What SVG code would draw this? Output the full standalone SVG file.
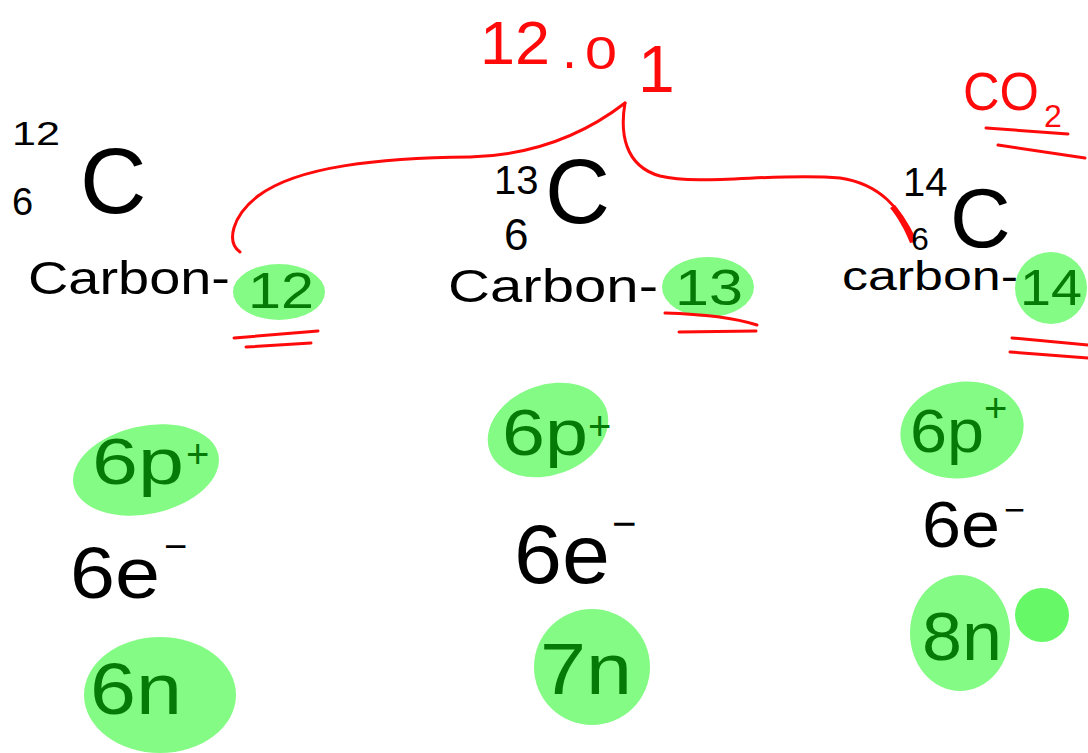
<svg xmlns="http://www.w3.org/2000/svg" width="1088" height="753" viewBox="0 0 1088 753">
<style>
.k{font-family:"Liberation Sans","DejaVu Sans",sans-serif;fill:#000}
.g{font-family:"Liberation Sans","DejaVu Sans",sans-serif;fill:#067a06}
.r{font-family:"Liberation Sans","DejaVu Sans",sans-serif;fill:#ff0a0a}
.blob{fill:#84fb84}
.red{fill:none;stroke:#ff0a0a;stroke-width:3;stroke-linecap:round}
</style>
<rect width="1088" height="753" fill="#fff"/>

<g id="atomic-mass">
<text class="r" x="480" y="64" font-size="62" textLength="70" lengthAdjust="spacingAndGlyphs">12</text>
<text class="r" x="562" y="68" font-size="54">.</text>
<text class="r" x="585" y="69" font-size="46" textLength="32" lengthAdjust="spacingAndGlyphs">0</text>
<text class="r" x="638" y="92" font-size="66">1</text>
</g>

<g id="connectors">
<path class="red" d="M240,252 C226,242 232,216 258,196 C298,166 380,158 470,157 C540,155 590,130 625,103"/>
<path class="red" d="M625,103 C620,132 624,166 660,176 C700,186 780,172 840,178 C880,184 900,208 915,240"/>
<path d="M895,205 C905,218 912,230 915,242 L910,243 C905,230 898,218 890,208 Z" fill="#ff0a0a"/>
</g>

<g id="co2">
<text class="r" x="963" y="110" font-size="54" textLength="76" lengthAdjust="spacingAndGlyphs">CO</text>
<text class="r" x="1044" y="127" font-size="32">2</text>
<path class="red" d="M986,128 L1068,134 M998,145 L1085,158"/>
</g>

<g id="carbon-12">
<text class="k" x="12" y="145" font-size="34" textLength="48" lengthAdjust="spacingAndGlyphs">12</text>
<text class="k" x="12" y="215" font-size="38">6</text>
<text class="k" x="80" y="213" font-size="92">C</text>
<text class="k" x="28" y="294" font-size="46" textLength="202" lengthAdjust="spacingAndGlyphs">Carbon-</text>
<ellipse class="blob" cx="279" cy="292" rx="46" ry="28"/>
<text class="g" x="248" y="308" font-size="50" textLength="66" lengthAdjust="spacingAndGlyphs">12</text>
<path class="red" d="M234,338 L318,331 M246,347 L311,343"/>
</g>

<g id="carbon-13">
<text class="k" x="494" y="194" font-size="40">13</text>
<text class="k" x="504" y="250" font-size="44">6</text>
<text class="k" x="545" y="223" font-size="90">C</text>
<text class="k" x="448" y="302" font-size="46" textLength="210" lengthAdjust="spacingAndGlyphs">Carbon-</text>
<ellipse class="blob" cx="708" cy="287" rx="46" ry="30"/>
<text class="g" x="675" y="305" font-size="50" textLength="68" lengthAdjust="spacingAndGlyphs">13</text>
<path class="red" d="M665,313 C700,314 735,318 757,325 M679,332 L756,331"/>
</g>

<g id="carbon-14">
<text class="k" x="903" y="196" font-size="40">14</text>
<text class="k" x="911" y="250" font-size="32">6</text>
<text class="k" x="950" y="247" font-size="84">C</text>
<text class="k" x="842" y="290" font-size="40" textLength="176" lengthAdjust="spacingAndGlyphs">carbon-</text>
<ellipse class="blob" cx="1051" cy="288" rx="36" ry="36"/>
<text class="g" x="1020" y="305" font-size="50" textLength="62" lengthAdjust="spacingAndGlyphs">14</text>
<path class="red" d="M1012,338 L1088,345 M1010,352 L1088,358"/>
</g>

<g id="c12-particles">
<ellipse class="blob" cx="146" cy="470" rx="74" ry="44" transform="rotate(-12 146 470)"/>
<text class="g" x="92" y="484" font-size="64" textLength="92" lengthAdjust="spacingAndGlyphs">6p</text>
<text class="g" x="186" y="468" font-size="40">+</text>
<text class="k" x="70" y="598" font-size="72" textLength="90" lengthAdjust="spacingAndGlyphs">6e</text>
<text class="k" x="164" y="560" font-size="40">−</text>
<ellipse class="blob" cx="160" cy="695" rx="76" ry="58"/>
<text class="g" x="90" y="714" font-size="72" textLength="92" lengthAdjust="spacingAndGlyphs">6n</text>
</g>

<g id="c13-particles">
<ellipse class="blob" cx="548" cy="430" rx="62" ry="45" transform="rotate(-20 548 430)"/>
<text class="g" x="502" y="455" font-size="64" textLength="86" lengthAdjust="spacingAndGlyphs">6p</text>
<text class="g" x="588" y="440" font-size="40">+</text>
<text class="k" x="514" y="583" font-size="84" textLength="96" lengthAdjust="spacingAndGlyphs">6e</text>
<text class="k" x="612" y="538" font-size="42">−</text>
<ellipse class="blob" cx="592" cy="667" rx="58" ry="58"/>
<text class="g" x="540" y="694" font-size="72" textLength="92" lengthAdjust="spacingAndGlyphs">7n</text>
</g>

<g id="c14-particles">
<ellipse class="blob" cx="962" cy="430" rx="62" ry="48" transform="rotate(-10 962 430)"/>
<text class="g" x="910" y="452" font-size="62" textLength="74" lengthAdjust="spacingAndGlyphs">6p</text>
<text class="g" x="984" y="422" font-size="40">+</text>
<text class="k" x="922" y="547" font-size="64" textLength="78" lengthAdjust="spacingAndGlyphs">6e</text>
<text class="k" x="1004" y="522" font-size="36">−</text>
<ellipse class="blob" cx="960" cy="633" rx="50" ry="58"/>
<text class="g" x="922" y="660" font-size="68" textLength="80" lengthAdjust="spacingAndGlyphs">8n</text>
<circle cx="1042" cy="615" r="27" fill="#66f866"/>
</g>
</svg>
